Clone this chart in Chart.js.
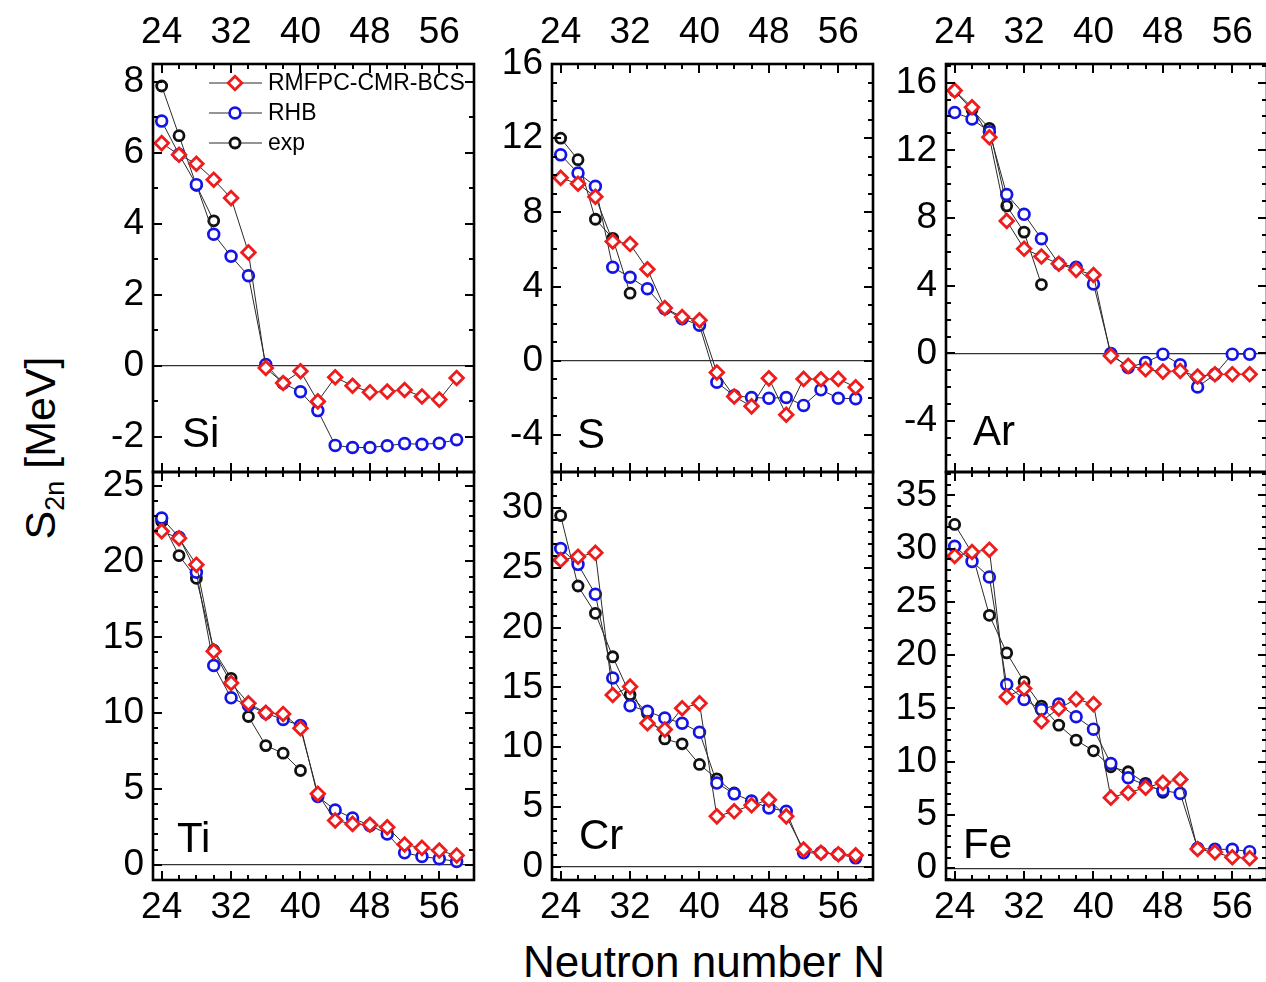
<!DOCTYPE html>
<html>
<head>
<meta charset="utf-8">
<title>Two-neutron separation energies</title>
<script src="https://cdn.jsdelivr.net/npm/chart.js@4.4.0/dist/chart.umd.min.js"></script>
<style>
  html, body { margin: 0; padding: 0; background: #fff; overflow: hidden; width: 1266px; height: 982px; }
  #fig { position: relative; width: 1266px; height: 982px; overflow: hidden; font-family: "Liberation Sans", Arial, sans-serif; color: #000; }
  #fig canvas { position: absolute; }
  #ytitle { position: absolute; left: 40px; top: 448px; transform: translate(-50%, -50%) rotate(-90deg); font-size: 43px; white-space: nowrap; }
  #ytitle sub { font-size: 27px; vertical-align: -9px; line-height: 0; }
  #xtitle { position: absolute; left: 704px; top: 962px; transform: translate(-50%, -50%); font-size: 44px; white-space: nowrap; }
</style>
</head>
<body>
<div id="fig">
  <div id="ytitle">S<sub>2n</sub> [MeV]</div>
  <div id="xtitle">Neutron number N</div>
</div>
<script>
// ---- data -------------------------------------------------------------
const seriesNames = ['RMFPC-CMR-BCS', 'RHB', 'exp'];
const neutrons = [24, 26, 28, 30, 32, 34, 36, 38, 40, 42, 44, 46, 48, 50, 52, 54, 56, 58];
const xTickValues = [24, 32, 40, 48, 56];

// Si
const siRmf = [6.27, 5.94, 5.69, 5.24, 4.72, 3.19, -0.07, -0.49, -0.16, -1.01, -0.33, -0.57, -0.75, -0.73, -0.69, -0.87, -0.96, -0.35];
const siRhb = [6.89, 5.95, 5.10, 3.70, 3.08, 2.53, 0.03, -0.50, -0.74, -1.27, -2.25, -2.31, -2.31, -2.26, -2.20, -2.22, -2.19, -2.09];
const siExpN = [24, 26, 28, 30];
const siExp = [7.88, 6.48, 5.08, 4.08];
const siYTicks = [-2, 0, 2, 4, 6, 8];

// S
const sRmf = [9.86, 9.54, 8.84, 6.43, 6.29, 4.93, 2.84, 2.36, 2.18, -0.63, -1.93, -2.46, -0.95, -2.91, -0.98, -1.00, -0.98, -1.43];
const sRhb = [11.10, 10.12, 9.41, 5.04, 4.50, 3.88, 2.80, 2.27, 1.91, -1.16, -1.89, -1.98, -2.02, -1.98, -2.41, -1.57, -2.02, -2.05];
const sExpN = [24, 26, 28, 30, 32];
const sExp = [12.00, 10.84, 7.63, 6.60, 3.64];
const sYTicks = [-4, 0, 4, 8, 12, 16];

// Ar
const arRmf = [15.53, 14.54, 12.77, 7.83, 6.19, 5.73, 5.30, 4.94, 4.64, -0.14, -0.73, -0.93, -1.07, -1.03, -1.36, -1.23, -1.23, -1.23];
const arRhb = [14.23, 13.85, 13.10, 9.39, 8.22, 6.78, 5.30, 5.10, 4.11, 0.00, -0.83, -0.53, -0.04, -0.67, -1.98, -1.23, -0.04, -0.04];
const arExpN = [24, 26, 28, 30, 32, 34];
const arExp = [15.50, 14.40, 13.30, 8.72, 7.17, 4.07];
const arYTicks = [-4, 0, 4, 8, 12, 16];

// Ti
const tiRmf = [21.99, 21.53, 19.79, 14.08, 11.99, 10.65, 10.02, 9.95, 9.01, 4.68, 2.92, 2.70, 2.64, 2.48, 1.34, 1.12, 0.94, 0.62];
const tiRhb = [22.87, 21.60, 19.29, 13.14, 11.01, 10.50, 10.00, 9.58, 9.18, 4.50, 3.62, 3.08, 2.60, 2.04, 0.79, 0.55, 0.40, 0.22];
const tiExpN = [24, 26, 28, 30, 32, 34, 36, 38, 40];
const tiExp = [22.63, 20.39, 18.89, 14.15, 12.30, 9.78, 7.86, 7.36, 6.22];
const tiYTicks = [0, 5, 10, 15, 20, 25];

// Cr
const crRmf = [25.64, 25.92, 26.25, 14.36, 15.06, 12.00, 11.47, 13.25, 13.67, 4.22, 4.64, 5.14, 5.61, 4.22, 1.44, 1.17, 1.06, 0.97];
const crRhb = [26.61, 25.28, 22.78, 15.78, 13.47, 13.00, 12.44, 12.00, 11.25, 7.00, 6.10, 5.50, 4.92, 4.64, 1.17, 1.17, 1.06, 0.75];
const crExpN = [24, 26, 28, 30, 32, 34, 36, 38, 40, 42, 44];
const crExp = [29.36, 23.47, 21.19, 17.56, 14.39, 12.83, 10.69, 10.28, 8.56, 7.36, 6.17];
const crYTicks = [0, 5, 10, 15, 20, 25, 30];

// Fe
const feRmf = [29.31, 29.69, 29.91, 16.09, 16.88, 13.81, 15.00, 15.88, 15.41, 6.63, 7.09, 7.56, 8.03, 8.34, 1.81, 1.50, 1.03, 0.94];
const feRhb = [30.22, 28.81, 27.34, 17.25, 15.84, 14.90, 15.41, 14.22, 13.06, 9.84, 8.50, 7.80, 7.30, 7.03, 1.88, 1.78, 1.78, 1.56];
const feExpN = [24, 26, 28, 30, 32, 34, 36, 38, 40, 42, 44, 46, 48];
const feExp = [32.28, 29.60, 23.75, 20.22, 17.50, 15.22, 13.44, 12.03, 11.03, 9.53, 9.06, 7.97, 7.13];
const feYTicks = [0, 5, 10, 15, 20, 25, 30, 35];

// ---- layout & style ---------------------------------------------------
const FONT = '"Liberation Sans", Arial, sans-serif';
const LINE_COLOR = '#2a2a2a';
const RED = '#ee1c1c';
const BLUE = '#1414e6';
const BLACK = '#111111';
const PANEL_W = 321, PANEL_H = 408;
const COL_LEFT = [153, 552, 946];
const ROW_TOP = [64, 472];
const AXIS_Y_W = 110, AXIS_X_H = 70, PAD = 70, PAD_R = 12;

const panels = [
  { name: 'Si', rmf: siRmf, rhb: siRhb, expN: siExpN, exp: siExp, yTicks: siYTicks, yMin: -3.0, yMax: 8.5, col: 0, row: 0, tag: [29, 25], legend: true },
  { name: 'S',  rmf: sRmf,  rhb: sRhb,  expN: sExpN,  exp: sExp,  yTicks: sYTicks,  yMin: -6.0, yMax: 16,  col: 1, row: 0, tag: [25, 24] },
  { name: 'Ar', rmf: arRmf, rhb: arRhb, expN: arExpN, exp: arExp, yTicks: arYTicks, yMin: -7.0, yMax: 17.1, col: 2, row: 0, tag: [27, 27] },
  { name: 'Ti', rmf: tiRmf, rhb: tiRhb, expN: tiExpN, exp: tiExp, yTicks: tiYTicks, yMin: -1.0, yMax: 25.9, col: 0, row: 1, tag: [24, 28] },
  { name: 'Cr', rmf: crRmf, rhb: crRhb, expN: crExpN, exp: crExp, yTicks: crYTicks, yMin: -1.1, yMax: 33.0, col: 1, row: 1, tag: [27, 31] },
  { name: 'Fe', rmf: feRmf, rhb: feRhb, expN: feExpN, exp: feExp, yTicks: feYTicks, yMin: -1.1, yMax: 37.2, col: 2, row: 1, tag: [17, 22] }
];

const toXY = (xs, ys) => xs.map((x, i) => ({ x: x, y: ys[i] }));

// Box frame with inward major/minor ticks on all four sides
const framePlugin = {
  id: 'frame',
  afterDatasetsDraw(chart, args, opts) {
    const { ctx, chartArea: a, scales } = chart;
    const x = scales.x, y = scales.y;
    ctx.save();
    ctx.strokeStyle = '#000';
    ctx.lineWidth = 2;
    const seg = (x1, y1, x2, y2) => { ctx.beginPath(); ctx.moveTo(x1, y1); ctx.lineTo(x2, y2); ctx.stroke(); };
    for (let v = 24; v <= x.max + 1e-9; v += 2) {
      const px = Math.round(x.getPixelForValue(v));
      const len = xTickValues.includes(v) ? 9 : 5;
      seg(px, a.top, px, a.top + len);
      seg(px, a.bottom, px, a.bottom - len);
    }
    for (let v = Math.ceil(y.min); v <= y.max + 1e-9; v += 1) {
      const py = Math.round(y.getPixelForValue(v));
      const len = opts.yMajor.includes(v) ? 9 : 5;
      seg(a.left, py, a.left + len, py);
      seg(a.right, py, a.right - len, py);
    }
    ctx.lineWidth = 2.6;
    ctx.strokeRect(a.left, a.top, a.right - a.left, a.bottom - a.top);
    ctx.restore();
  }
};

// Element symbol in the lower-left corner of each panel
const tagPlugin = {
  id: 'tag',
  afterDatasetsDraw(chart, args, opts) {
    const { ctx, chartArea: a } = chart;
    ctx.save();
    ctx.fillStyle = '#000';
    ctx.font = '42px ' + FONT;
    ctx.textAlign = 'left';
    ctx.textBaseline = 'alphabetic';
    ctx.fillText(opts.text, a.left + opts.dx, a.bottom - opts.dy);
    ctx.restore();
  }
};

// Series key drawn inside the first panel
const keyPlugin = {
  id: 'key',
  afterDatasetsDraw(chart, args, opts) {
    if (!opts.show) return;
    const { ctx, chartArea: a } = chart;
    ctx.save();
    chart.data.datasets.forEach((ds, i) => {
      const cy = a.top + 19 + i * 30;
      const x0 = a.left + 56;
      ctx.strokeStyle = ds.borderColor;
      ctx.lineWidth = 1;
      ctx.beginPath(); ctx.moveTo(x0, cy); ctx.lineTo(x0 + 53, cy); ctx.stroke();
      ctx.strokeStyle = ds.pointBorderColor;
      ctx.fillStyle = '#fff';
      ctx.lineWidth = ds.pointBorderWidth;
      Chart.helpers.drawPoint(ctx, { pointStyle: ds.pointStyle, radius: ds.pointRadius, borderWidth: ds.pointBorderWidth, rotation: 0 }, x0 + 26, cy);
      ctx.fillStyle = '#000';
      ctx.font = '23px ' + FONT;
      ctx.textAlign = 'left';
      ctx.textBaseline = 'middle';
      ctx.fillText(ds.label, x0 + 59, cy + 1);
    });
    ctx.restore();
  }
};

const fig = document.getElementById('fig');

panels.forEach(p => {
  const left = COL_LEFT[p.col], top = ROW_TOP[p.row];
  const cv = document.createElement('canvas');
  const w = AXIS_Y_W + PANEL_W + PAD_R;
  const h = AXIS_X_H + PANEL_H + PAD;
  cv.width = w; cv.height = h;
  cv.style.width = w + 'px'; cv.style.height = h + 'px';
  cv.style.left = (left - AXIS_Y_W) + 'px';
  cv.style.top = (p.row === 0 ? top - AXIS_X_H : top - PAD) + 'px';
  fig.appendChild(cv);

  const tickFont = { family: FONT, size: 37 };
  new Chart(cv, {
    type: 'line',
    data: {
      datasets: [
        { label: seriesNames[0], data: toXY(neutrons, p.rmf), borderColor: LINE_COLOR, borderWidth: 1,
          pointStyle: 'rectRot', pointRadius: 6.8, pointBorderColor: RED, pointBackgroundColor: '#fff', pointBorderWidth: 2.8, tension: 0 },
        { label: seriesNames[1], data: toXY(neutrons, p.rhb), borderColor: LINE_COLOR, borderWidth: 1,
          pointStyle: 'circle', pointRadius: 5.4, pointBorderColor: BLUE, pointBackgroundColor: '#fff', pointBorderWidth: 2.7, tension: 0 },
        { label: seriesNames[2], data: toXY(p.expN, p.exp), borderColor: LINE_COLOR, borderWidth: 1,
          pointStyle: 'circle', pointRadius: 5.0, pointBorderColor: BLACK, pointBackgroundColor: '#fff', pointBorderWidth: 2.8, tension: 0 }
      ]
    },
    options: {
      responsive: false,
      animation: false,
      events: [],
      layout: { padding: { left: 0, right: PAD_R, top: p.row === 0 ? 0 : PAD, bottom: p.row === 0 ? PAD : 0 } },
      plugins: {
        legend: { display: false },
        tooltip: { enabled: false },
        frame: { yMajor: p.yTicks },
        tag: { text: p.name, dx: p.tag[0], dy: p.tag[1] },
        key: { show: !!p.legend }
      },
      scales: {
        x: {
          type: 'linear', position: p.row === 0 ? 'top' : 'bottom', min: 23, max: 60,
          afterBuildTicks: s => { s.ticks = xTickValues.map(v => ({ value: v })); },
          afterFit: s => { s.height = AXIS_X_H; },
          grid: { display: false, drawTicks: false },
          border: { display: false },
          ticks: { font: tickFont, color: '#000', padding: p.row === 0 ? 9 : 6, maxRotation: 0, autoSkip: false }
        },
        y: {
          type: 'linear', min: p.yMin, max: p.yMax,
          afterBuildTicks: s => { s.ticks = p.yTicks.map(v => ({ value: v })); },
          afterFit: s => { s.width = AXIS_Y_W; },
          grid: { drawTicks: false, lineWidth: 1.3, color: c => (c.tick && c.tick.value === 0) ? '#333' : 'rgba(0,0,0,0)' },
          border: { display: false },
          ticks: { font: tickFont, color: '#000', padding: 9, autoSkip: false }
        }
      }
    },
    plugins: [framePlugin, tagPlugin, keyPlugin]
  });
});
</script>
</body>
</html>
